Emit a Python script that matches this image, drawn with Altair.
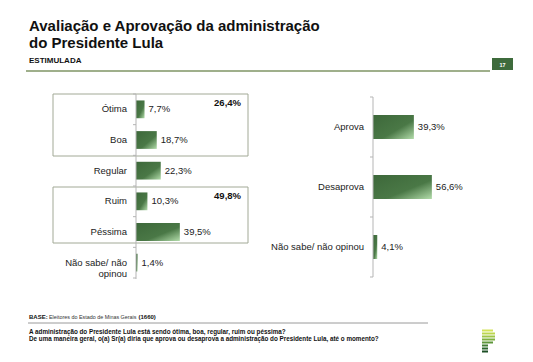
import altair as alt
import pandas as pd

# ---------------- data ----------------
left_cats = ["Ótima", "Boa", "Regular", "Ruim", "Péssima", "Não sabe/ não opinou"]
left_labels = ["Ótima", "Boa", "Regular", "Ruim", "Péssima", "Não sabe/ não\nopinou"]
left_vals = [7.7, 18.7, 22.3, 10.3, 39.5, 1.4]

right_cats = ["Aprova", "Desaprova", "Não sabe/ não opinou"]
right_vals = [39.3, 56.6, 4.1]

group_totals = ["26,4%", "49,8%"]

title_lines = ["Avaliação e Aprovação da administração", "do Presidente Lula"]
subtitle = "ESTIMULADA"
page_no = "17"
base_note = ["BASE:", "Eleitores do Estado de Minas Gerais", "(1660)"]
questions = [
    "A administração do Presidente Lula está sendo ótima, boa, regular, ruim ou péssima?",
    "De uma maneira geral, o(a) Sr(a) diria que aprova ou desaprova a administração do Presidente Lula, até o momento?",
]

FONT = "Liberation Sans"


def pct(v):
    return f"{v:.1f}".replace(".", ",") + "%"


left_df = pd.DataFrame({"cat": left_cats, "val": left_vals, "lab": left_labels,
                        "txt": [pct(v) for v in left_vals]})
right_df = pd.DataFrame({"cat": right_cats, "val": right_vals,
                         "txt": [pct(v) for v in right_vals]})

grad = alt.LinearGradient(
    gradient="linear", x1=0, y1=0, x2=1, y2=1,
    stops=[alt.GradientStop(offset=0, color="#3d683a"),
           alt.GradientStop(offset=0.6, color="#4a7846"),
           alt.GradientStop(offset=1, color="#b2dcaa")],
)

one = pd.DataFrame({"k": [0]})

# ---------------- left chart ----------------
ly = alt.Y("cat:N", sort=left_cats, axis=None,
           scale=alt.Scale(range=[86, 270], paddingInner=0.42, paddingOuter=0.21))
lx = alt.X("val:Q", axis=None, scale=alt.Scale(domain=[0, 100], range=[128, 239]))

left_bars = alt.Chart(left_df).mark_bar(color=grad).encode(x=lx, y=ly)
left_vals_t = alt.Chart(left_df).mark_text(align="left", baseline="middle", dx=4, font=FONT,
                                           fontSize=9.5, color="#222").encode(x="val:Q", y=alt.Y("cat:N", sort=left_cats), text="txt:N")
left_labs = alt.Chart(left_df).mark_text(align="right", baseline="middle", font=FONT, fontSize=9.5,
                                         color="#222", lineBreak="\n", lineHeight=11).encode(
    x=alt.value(119), y=alt.Y("cat:N", sort=left_cats), text="lab:N")
left = alt.layer(left_bars, left_vals_t, left_labs)

# ---------------- right chart ----------------
ry = alt.Y("cat:N", sort=right_cats, axis=None,
           scale=alt.Scale(range=[89, 269], paddingInner=0.6, paddingOuter=0.3))
rx = alt.X("val:Q", axis=None, scale=alt.Scale(domain=[0, 100], range=[365, 469]))

right_bars = alt.Chart(right_df).mark_bar(color=grad).encode(x=rx, y=ry)
right_vals_t = alt.Chart(right_df).mark_text(align="left", baseline="middle", dx=4, font=FONT,
                                             fontSize=9.5, color="#222").encode(x="val:Q", y=alt.Y("cat:N", sort=right_cats), text="txt:N")
right_labs = alt.Chart(right_df).mark_text(align="right", baseline="middle", font=FONT, fontSize=9.5,
                                           color="#222").encode(
    x=alt.value(356), y=alt.Y("cat:N", sort=right_cats), text="cat:N")
right = alt.layer(right_bars, right_vals_t, right_labs)

# ---------------- decorations ----------------
deco = []


def rule(x1, y1, x2, y2, color, w=1):
    return alt.Chart(one).mark_rule(color=color, strokeWidth=w).encode(
        x=alt.value(x1), y=alt.value(y1), x2=alt.value(x2), y2=alt.value(y2))


def rect(x1, y1, x2, y2, fill=None, stroke=None, sw=1):
    kw = {}
    if fill is not None:
        kw["fill"] = fill
    else:
        kw["fillOpacity"] = 0
    if stroke is not None:
        kw["stroke"] = stroke
        kw["strokeWidth"] = sw
    return alt.Chart(one).mark_rect(**kw).encode(
        x=alt.value(x1), y=alt.value(y1), x2=alt.value(x2), y2=alt.value(y2))


def text(t, x, y, size, bold=False, color="#111", align="left", baseline="alphabetic"):
    return alt.Chart(one).mark_text(text=t, font=FONT, fontSize=size,
                                    fontWeight="bold" if bold else "normal",
                                    color=color, align=align, baseline=baseline).encode(
        x=alt.value(x), y=alt.value(y))


# group boxes
deco.append(rect(45, 86, 240, 148, stroke="#a2a996"))
deco.append(rect(45, 179, 240, 235, stroke="#a2a996"))
deco.append(text(group_totals[0], 233, 95, 9.5, bold=True, align="right", baseline="middle"))
deco.append(text(group_totals[1], 233, 188, 9.5, bold=True, align="right", baseline="middle"))

# axis lines and ticks
deco.append(rule(128, 86, 128, 271, "#b5b5b5"))
for yy in [86 + i * 184 / 6 for i in range(7)]:
    deco.append(rule(125, yy, 128, yy, "#b5b5b5"))
deco.append(rule(365, 89, 365, 269, "#b5b5b5"))
for yy in [89, 149, 209, 269]:
    deco.append(rule(362, yy, 365, yy, "#b5b5b5"))

# header
deco.append(text(title_lines[0], 21, 23, 15, bold=True))
deco.append(text(title_lines[1], 21, 40, 15, bold=True))
deco.append(text(subtitle, 21, 55, 8, bold=True))
deco.append(rule(18, 63, 482, 63, "#7f9464", 1.5))
deco.append(rect(484, 50, 505, 62, fill="#3e6b3c"))
deco.append(text(page_no, 494.5, 56.5, 5.5, bold=True, color="white", align="center", baseline="middle"))

# footer
deco.append(text(base_note[0], 21, 311, 6, bold=True))
deco.append(text(base_note[1], 41, 311, 5.4, color="#333"))
deco.append(text(base_note[2], 130.5, 311, 6, bold=True))
deco.append(rule(20, 315, 420, 315, "#9a9a9a"))
deco.append(text(questions[0], 21, 326, 6.3, bold=True))
deco.append(text(questions[1], 21, 333, 6.3, bold=True))

# logo (striped P)
logo_colors = ["#d3e35a", "#bcd64e", "#9fc547", "#7fb040", "#5e963a", "#417c33", "#2c662d", "#1c4f25"]
for i, c in enumerate(logo_colors):
    yy = 322.5 + i * 3
    x2 = 487 if i < 5 else 480
    if i in (0, 4):
        x2 = 485
    deco.append(rule(474, yy, x2, yy, c, 2))

chart = alt.layer(left, right, *deco).resolve_scale(x="independent", y="independent").properties(
    width=517, height=346, autosize=alt.AutoSizeParams(type="none"), padding=0
).configure_view(stroke=None)

chart.save("out.html", embed_options={"renderer": "svg", "actions": False})
